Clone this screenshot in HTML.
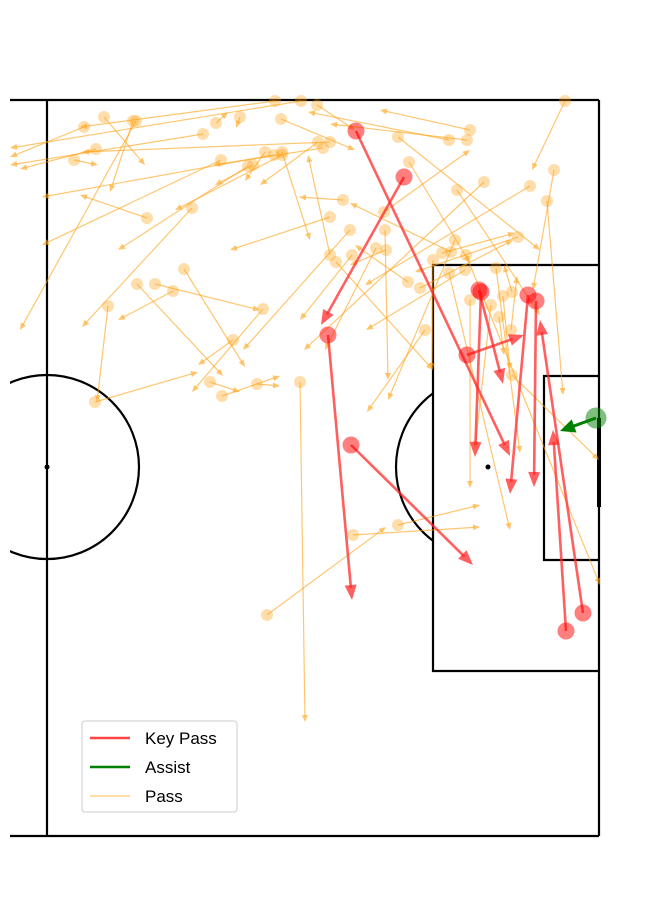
<!DOCTYPE html>
<html><head><meta charset="utf-8"><style>
html,body{margin:0;padding:0;background:#fff;}
svg{display:block;font-family:"Liberation Sans","DejaVu Sans",sans-serif;}
</style></head><body>
<svg id="chart" width="645" height="919" viewBox="0 0 645 919" xmlns="http://www.w3.org/2000/svg">
<defs>
<clipPath id="clipL"><rect x="10" y="0" width="640" height="919"/></clipPath>
<clipPath id="clipArc"><rect x="0" y="0" width="433" height="919"/></clipPath>
</defs>
<g fill="none" stroke="#000" stroke-width="2.2">
<line x1="10" y1="100" x2="599" y2="100"/>
<line x1="10" y1="836" x2="599" y2="836"/>
<line x1="47" y1="100" x2="47" y2="836"/>
<line x1="599" y1="100" x2="599" y2="836"/>
<polyline points="599,265 433,265 433,671 599,671"/>
<polyline points="599,376 544,376 544,560 599,560"/>
<line x1="599" y1="418" x2="599" y2="507" stroke-width="4"/>
<circle cx="47" cy="467" r="92" clip-path="url(#clipL)"/>
<circle cx="488" cy="467" r="92" clip-path="url(#clipArc)"/>
<circle cx="47" cy="467" r="2.5" fill="#000" stroke="none"/>
<circle cx="488" cy="467" r="2.5" fill="#000" stroke="none"/>
</g>
<g id="passes" clip-path="url(#clipL)"></g>
<g>
<rect x="82" y="721" width="155" height="91" rx="3" fill="#fff" fill-opacity="0.8" stroke="#ccc"/>
<line x1="90" y1="738" x2="130" y2="738" stroke="#ff4444" stroke-width="2.5"/>
<text x="145" y="744" font-size="17">Key Pass</text>
<line x1="90" y1="767" x2="130" y2="767" stroke="green" stroke-width="2.5"/>
<text x="145" y="773" font-size="17">Assist</text>
<line x1="90" y1="796" x2="130" y2="796" stroke="orange" stroke-opacity="0.6" stroke-width="1.2"/>
<text x="145" y="802" font-size="17">Pass</text>
</g>
</svg>
<script>
// Data in pitch-frame units (origin = halfway line / top touchline)
const passSX=[228,254,270,37,57,86,89,49,27,156,169,193,234,276,271,235,218,206,201,174,145,100,108,126,137,90,61,186,216,227,283,235,303,283,48,163,175,210,253,220,351,306,518,507,500,471,395,423,402,420,483,437,410,419,402,456,373,386,378,465,464,452,444,423,418,408,338,329,361,289,283,337,305,362,351,339,296,404,449,465];
const passSY=[1,1,5,27,17,21,21,49,60,34,23,17,19,48,42,52,52,65,66,60,108,118,184,191,169,184,206,240,209,55,42,55,130,117,302,282,296,284,282,515,425,435,1,70,101,137,153,30,40,40,86,82,90,155,173,196,188,160,230,275,230,217,205,200,170,140,130,148,182,162,155,112,155,62,37,150,100,152,168,192];
const passEX=[33,-37,308,-37,98,63,-27,-27,51,-37,181,189,308,166,213,263,198,168,71,-5,35,33,213,71,198,176,50,151,145,-5,35,128,196,183,151,193,233,233,258,339,433,433,485,486,516,368,468,333,261,283,318,257,493,553,463,463,466,385,320,552,470,457,428,423,319,341,341,278,308,386,261,423,253,423,493,303,252,303,473,457];
const passEY=[27,48,30,57,65,92,230,69,65,65,12,28,50,65,85,140,81,85,150,145,227,95,210,220,267,276,302,265,292,97,52,110,250,150,272,292,276,286,622,427,405,427,70,190,295,172,133,10,12,24,185,250,215,485,430,270,140,270,312,360,176,255,348,388,230,300,280,250,145,270,55,50,220,163,150,165,97,103,353,165];
const keySX=[309,357,281,304,432,434,420,481,489,519,536];
const keySY=[31,77,235,345,190,192,255,195,201,531,513];
const keyEX=[463,274,305,426,456,428,477,463,487,506,493];
const keyEY=[356,225,500,465,284,357,235,394,387,330,220];
const assistSX=[549];
const assistSY=[318];
const assistEX=[513];
const assistEY=[331];
const X0=47,Y0=100;
function xs(v){return X0+v;}
function ys(v){return Y0+v;}
const NS='http://www.w3.org/2000/svg';
const g=document.getElementById('passes');
function arrow(x1,y1,x2,y2,col,op,w,hl,hw,name){
  const ln=document.createElementNS(NS,'line');
  
  
  const dx=x2-x1,dy=y2-y1,L=Math.hypot(dx,dy)||1,ux=dx/L,uy=dy/L;
  ln.setAttribute('x1',x1);ln.setAttribute('y1',y1);
  ln.setAttribute('x2',x2-ux*hl*0.8);ln.setAttribute('y2',y2-uy*hl*0.8);
  ln.setAttribute('stroke',col);ln.setAttribute('stroke-opacity',op);ln.setAttribute('stroke-width',w);
  g.appendChild(ln);
  const bx=x2-ux*hl,by=y2-uy*hl;
  const p=document.createElementNS(NS,'polygon');
  
  
  p.setAttribute('points',`${x2},${y2} ${bx-uy*hw},${by+ux*hw} ${bx+uy*hw},${by-ux*hw}`);
  p.setAttribute('fill',col);p.setAttribute('fill-opacity',op);
  g.appendChild(p);
}
function dot(x,y,r,col,op,name){
  const c=document.createElementNS(NS,'circle');
  
  
  c.setAttribute('cx',x);c.setAttribute('cy',y);c.setAttribute('r',r);
  c.setAttribute('fill',col);c.setAttribute('fill-opacity',op);
  g.appendChild(c);
}
for(let i=0;i<passSX.length;i++){
  arrow(xs(passSX[i]),ys(passSY[i]),xs(passEX[i]),ys(passEY[i]),'#ffa010',0.6,1.2,7,3,'pass');
  dot(xs(passSX[i]),ys(passSY[i]),6,'#ffa010',0.35,'pass-start');
}
for(let i=0;i<keySX.length;i++){
  arrow(xs(keySX[i]),ys(keySY[i]),xs(keyEX[i]),ys(keyEY[i]),'#ff2a2a',0.75,2.6,15,6,'key-pass');
  dot(xs(keySX[i]),ys(keySY[i]),8.5,'red',0.5,'key-pass-start');
}
for(let i=0;i<assistSX.length;i++){
  arrow(xs(assistSX[i]),ys(assistSY[i]),xs(assistEX[i]),ys(assistEY[i]),'green',1,3,15,7,'assist');
  dot(xs(assistSX[i]),ys(assistSY[i]),10.5,'green',0.5,'assist-start');
}
</script>
</body></html>
